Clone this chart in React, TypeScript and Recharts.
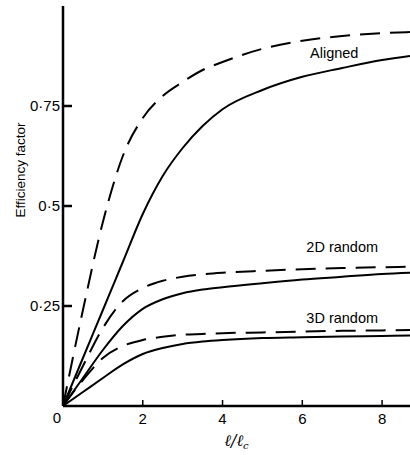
import React from "react";
import { LineChart, Line, XAxis, YAxis, ReferenceDot, Label } from "recharts";

const lengthRatio = [0, 0.5, 1, 1.5, 2, 2.5, 3, 3.5, 4, 5, 6, 7, 8, 8.7];
const alignedUpper = [0, 0.24, 0.46, 0.625, 0.72, 0.775, 0.81, 0.84, 0.86, 0.893, 0.913, 0.925, 0.932, 0.935];
const alignedLower = [0, 0.12, 0.24, 0.36, 0.48, 0.575, 0.645, 0.7, 0.742, 0.79, 0.823, 0.845, 0.865, 0.875];
const random2DUpper = [0, 0.1, 0.195, 0.262, 0.295, 0.313, 0.323, 0.329, 0.333, 0.338, 0.342, 0.345, 0.347, 0.348];
const random2DLower = [0, 0.07, 0.14, 0.2, 0.243, 0.267, 0.282, 0.291, 0.297, 0.307, 0.316, 0.323, 0.33, 0.333];
const random3DUpper = [0, 0.065, 0.12, 0.15, 0.165, 0.173, 0.178, 0.18, 0.182, 0.184, 0.186, 0.188, 0.189, 0.19];
const random3DLower = [0, 0.035, 0.07, 0.104, 0.13, 0.145, 0.155, 0.161, 0.165, 0.17, 0.172, 0.174, 0.175, 0.176];

const xTicks = [0, 2, 4, 6, 8];
const yTicks = [0.25, 0.5, 0.75];

const annotations = [
  { x: 6.8, y: 0.8825, text: "Aligned" },
  { x: 7.0, y: 0.3975, text: "2D random" },
  { x: 7.0, y: 0.22, text: "3D random" },
];

const data = lengthRatio.map((x, i) => ({
  x,
  au: alignedUpper[i],
  al: alignedLower[i],
  ru2: random2DUpper[i],
  rl2: random2DLower[i],
  ru3: random3DUpper[i],
  rl3: random3DLower[i],
}));

const FONT = "'Liberation Sans', Arial, sans-serif";

const YTick = (props: any) => {
  const { x, y, payload } = props;
  const label = String(payload.value).replace(".", "\u00b7");
  return (
    <g>
      <line x1={x} x2={x + 9} y1={y} y2={y} stroke="#000" strokeWidth={2.5} />
      <text x={x - 3} y={y} dy={5} textAnchor="end" fontFamily={FONT} fontSize={15} fill="#000">
        {label}
      </text>
    </g>
  );
};

const XTick = (props: any) => {
  const { x, y, payload } = props;
  if (payload.value === 0) {
    return (
      <text x={x - 6} y={y} dy={17} textAnchor="middle" fontFamily={FONT} fontSize={15} fill="#000">
        0
      </text>
    );
  }
  return (
    <g>
      <line x1={x} x2={x} y1={y} y2={y - 6} stroke="#000" strokeWidth={1.5} />
      <text x={x} y={y} dy={18} textAnchor="middle" fontFamily={FONT} fontSize={15} fill="#000">
        {payload.value}
      </text>
    </g>
  );
};

const series = [
  { key: "au", dash: "20 10" },
  { key: "al", dash: undefined },
  { key: "ru2", dash: "20 10" },
  { key: "rl2", dash: undefined },
  { key: "ru3", dash: "20 10" },
  { key: "rl3", dash: undefined },
];

export default function App() {
  return (
    <div style={{ position: "absolute", left: 0, top: 0, background: "#fff" }}>
      <LineChart width={410} height={455} data={data} margin={{ top: 6, right: 0, bottom: 0, left: 0 }}>
        <XAxis
          dataKey="x"
          type="number"
          domain={[0, 8.7]}
          ticks={xTicks}
          tick={<XTick />}
          tickLine={false}
          tickSize={0}
          tickMargin={0}
          height={49}
          axisLine={{ stroke: "#000", strokeWidth: 2.5 }}
          interval={0}
        >
          <Label
            content={(p: any) => {
              const vb = p.viewBox;
              return (
                <text x={vb.x + vb.width / 2} y={vb.y + 40} textAnchor="middle" fontFamily="'DejaVu Serif', serif" fontStyle="italic" fontSize={16} fill="#000">
                  ℓ/ℓ<tspan fontSize={10} dy={3}>c</tspan>
                </text>
              );
            }}
          />
        </XAxis>
        <YAxis
          type="number"
          domain={[0, 1]}
          ticks={yTicks}
          tick={<YTick />}
          tickLine={false}
          tickSize={0}
          tickMargin={0}
          width={63}
          axisLine={{ stroke: "#000", strokeWidth: 2.5 }}
          interval={0}
        >
          <Label
            content={(p: any) => {
              const vb = p.viewBox;
              const cx = vb.x + 20;
              const cy = vb.y + vb.height / 2 - 36;
              return (
                <text x={cx} y={cy} transform={`rotate(-90 ${cx} ${cy})`} textAnchor="middle" dominantBaseline="central" fontFamily={FONT} fontSize={13.5} fill="#000">
                  Efficiency factor
                </text>
              );
            }}
          />
        </YAxis>
        {series.map((s) => (
          <Line
            key={s.key}
            dataKey={s.key}
            type="monotone"
            stroke="#000"
            strokeWidth={2}
            strokeDasharray={s.dash}
            dot={false}
            activeDot={false}
            isAnimationActive={false}
          />
        ))}
        {annotations.map((a) => (
          <ReferenceDot
            key={a.text}
            x={a.x}
            y={a.y}
            r={0}
            fill="none"
            stroke="none"
            label={{ value: a.text, position: "center", fontFamily: FONT, fontSize: 14.5, fill: "#000" }}
          />
        ))}
      </LineChart>
    </div>
  );
}
